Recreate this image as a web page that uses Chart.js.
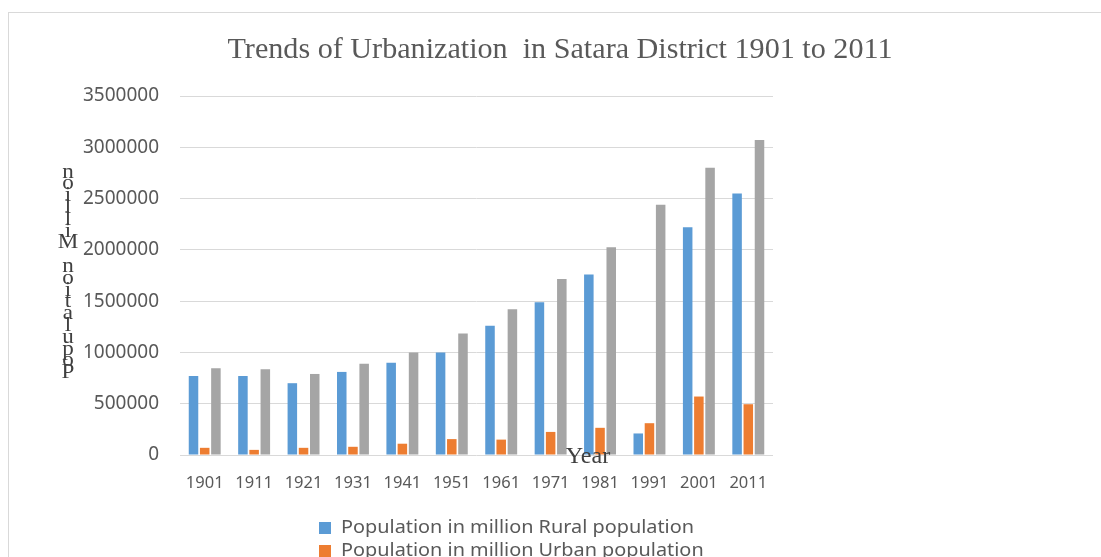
<!DOCTYPE html>
<html>
<head>
<meta charset="utf-8">
<script src="https://cdn.jsdelivr.net/npm/chart.js@4/dist/chart.umd.min.js"></script>
<style>
  body { margin: 0; background: #fff; overflow: hidden; }
  #frame { position: absolute; left: 8px; top: 12px; width: 1200px; height: 700px; border: 1px solid #d9d9d9; }
  #wrap { position: absolute; left: 0; top: 0; width: 1101px; height: 557px; }
</style>
</head>
<body>
<div id="frame"></div>
<div id="wrap"><canvas id="c" width="1101" height="557"></canvas></div>
<script>
// chart data
const years = ['1901', '1911', '1921', '1931', '1941', '1951', '1961', '1971', '1981', '1991', '2001', '2011'];
const rural = [770000, 770000, 700000, 810000, 900000, 1000000, 1260000, 1490000, 1760000, 210000, 2220000, 2550000];
const urban = [70000, 50000, 70000, 80000, 110000, 155000, 150000, 225000, 265000, 310000, 570000, 495000];
const total = [845000, 835000, 790000, 890000, 1000000, 1185000, 1420000, 1715000, 2025000, 2440000, 2800000, 3070000];
const seriesNames = [
  'Population in million Rural population',
  'Population in million Urban population',
  'Population in million Total population'
];
const titleText = 'Trends of Urbanization  in Satara District 1901 to 2011';
const yTitle = 'Population Million';
const xTitle = 'Year';

const TEXT = '#595959';

// draw text stretched sideways (the source picture is a bit wider than the fonts)
function wideText(ctx, text, x, y, sx) {
  ctx.save();
  ctx.translate(x, y);
  ctx.scale(sx, 1);
  ctx.fillText(text, 0, 0);
  ctx.restore();
}

// title, axis titles and the legend (Excel-like placement)
const decorations = {
  id: 'decorations',
  afterDraw(chart) {
    const ctx = chart.ctx;
    ctx.save();
    // title
    ctx.fillStyle = TEXT;
    ctx.font = '30px "Liberation Serif"';
    ctx.textAlign = 'center';
    ctx.textBaseline = 'alphabetic';
    const tw = ctx.measureText(titleText).width;
    wideText(ctx, titleText, 560, 58, 665 / tw);

    // y title: letters stacked, reversed order
    ctx.fillStyle = '#404040';
    ctx.font = '21px "Liberation Serif"';
    ctx.textBaseline = 'middle';
    const letters = yTitle.split('').reverse();
    letters.forEach((ch, i) => wideText(ctx, ch, 68, 172 + i * 11.8, 1.1));

    // x title
    ctx.font = '23px "Liberation Serif"';
    ctx.textBaseline = 'alphabetic';
    wideText(ctx, xTitle, 588, 463, 1.05);

    // legend, one item per row
    ctx.font = '18px "Noto Sans"';
    ctx.textAlign = 'left';
    ctx.textBaseline = 'middle';
    const lw = ctx.measureText(seriesNames[0]).width;
    chart.data.datasets.forEach((ds, i) => {
      const y = 528 + i * 23;
      ctx.fillStyle = ds.backgroundColor;
      ctx.fillRect(319, y - 6, 12, 12);
      ctx.fillStyle = TEXT;
      wideText(ctx, ds.label, 341, y, 353 / lw);
    });
    ctx.restore();
  }
};

new Chart(document.getElementById('c'), {
  type: 'bar',
  data: {
    labels: years,
    datasets: [
      { label: seriesNames[0], data: rural, backgroundColor: '#5B9BD5' },
      { label: seriesNames[1], data: urban, backgroundColor: '#ED7D31' },
      { label: seriesNames[2], data: total, backgroundColor: '#A5A5A5' }
    ]
  },
  options: {
    responsive: false,
    animation: false,
    categoryPercentage: 0.68,
    barPercentage: 0.85,
    layout: { padding: { left: 0, right: 328, top: 96, bottom: 62 } },
    plugins: {
      legend: { display: false },
      title: { display: false },
      tooltip: { enabled: false }
    },
    scales: {
      x: {
        grid: { display: false, drawTicks: false },
        border: { display: false },
        ticks: { color: TEXT, font: { family: 'Noto Sans', size: 16.5 }, padding: 18, maxRotation: 0, autoSkip: false },
        afterFit(scale) { scale.height = 40; }
      },
      y: {
        min: 0,
        max: 3500000,
        grid: { color: '#d9d9d9', lineWidth: 1, drawTicks: false },
        border: { display: false },
        ticks: {
          stepSize: 500000,
          color: TEXT,
          font: { family: 'Noto Sans', size: 19 },
          padding: 21,
          callback: v => String(v)
        },
        afterFit(scale) { scale.width = 180; }
      }
    }
  },
  plugins: [decorations]
});
</script>
</body>
</html>
